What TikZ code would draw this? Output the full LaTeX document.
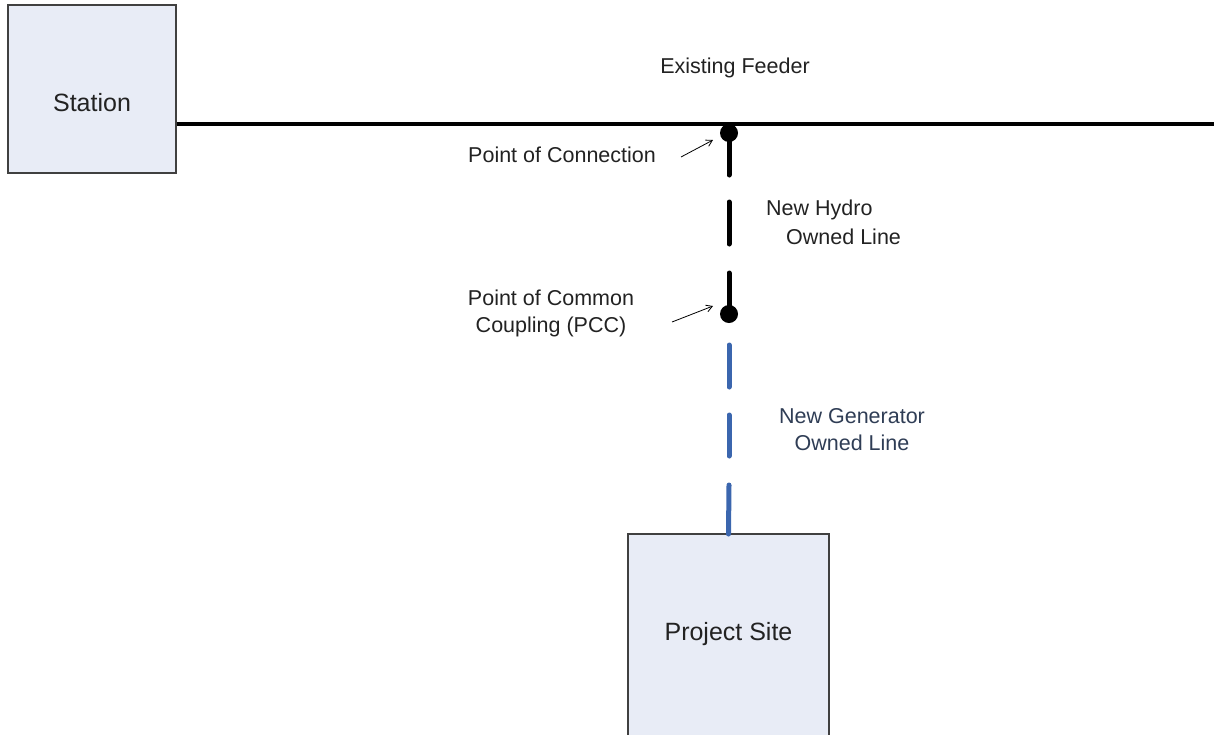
\documentclass[tikz,border=0pt]{standalone}
\usepackage{fontspec}
\setmainfont{Liberation Sans}
\usetikzlibrary{arrows.meta}
\definecolor{boxfill}{HTML}{E8ECF6}
\definecolor{boxline}{HTML}{404040}
\definecolor{genblue}{HTML}{3B66AE}
\definecolor{gentext}{HTML}{2F3D55}
\definecolor{txt}{HTML}{222222}
\begin{document}
\begin{tikzpicture}[x=1pt,y=-1pt,
  blk/.style={draw=boxline,line width=1.5pt,fill=boxfill,inner sep=0pt},
  big/.style={font=\fontsize{25}{30}\selectfont,text=txt,inner sep=0pt},
  lbl/.style={font=\fontsize{21.5}{27}\selectfont,text=txt,inner sep=0pt,align=center},
  dotnode/.style={circle,fill=black,inner sep=0pt,minimum size=18pt},
  hydro/.style={line width=5pt,black,line cap=round},
  gen/.style={line width=5pt,genblue,line cap=round},
  ptr/.style={line width=0.8pt,-{Straight Barb[length=6pt,width=7pt]}}]
\useasboundingbox (0,0) rectangle (1214,734);
% boxes
\node[blk,minimum width=168pt,minimum height=168pt] (station) at (92,89) {};
\node[big] (stationlbl) at (92,103) {Station};
\path[draw=boxline,line width=1.5pt,fill=boxfill] (628,534) rectangle (829,740);
\node[big] (site) at (728.5,634) {Project Site};
\coordinate (sitetop) at (728.5,534);
% feeder
\coordinate (feedend) at (1214,124);
\draw[line width=4.5pt] (station.east |- 0,124) -- (feedend);
% dots
\node[dotnode] (poc) at (729,133) {};
\node[dotnode] (pcc) at (729,314) {};
% hydro line dashes
\coordinate (h1) at (729,175);
\coordinate (h2a) at (729,202);
\coordinate (h2b) at (729,244);
\coordinate (h3a) at (729,273);
\draw[hydro] (poc.center) -- (h1);
\draw[hydro] (h2a) -- (h2b);
\draw[hydro] (h3a) -- (pcc.center);
% generator line dashes
\coordinate (g1a) at (729,345);
\coordinate (g1b) at (729,387);
\coordinate (g2a) at (729,415);
\coordinate (g2b) at (729,456);
\coordinate (g3a) at (729,485);
\draw[gen] (g1a) -- (g1b);
\draw[gen] (g2a) -- (g2b);
\draw[gen] (g3a) -- (sitetop);
% labels
\node[lbl] (feeder) at (735,68) {Existing Feeder};
\node[lbl,anchor=west] (poclbl) at (468,155) {Point of Connection};
\node[lbl,anchor=west] (hyd1) at (766,210) {New Hydro};
\node[lbl,anchor=west] (hyd2) at (786,237) {Owned Line};
\node[lbl,anchor=north] (pcclbl) at (551,290) {Point of Common\\Coupling (PCC)};
\node[lbl,text=gentext] (genlbl) at (852,430) {New Generator\\Owned Line};
% pointers
\coordinate (a1s) at (681,157);
\coordinate (a1e) at (713,140);
\draw[ptr] (a1s) -- (a1e);
\coordinate (a2s) at (672,322);
\coordinate (a2e) at (713,306);
\draw[ptr] (a2s) -- (a2e);
\end{tikzpicture}
\end{document}
